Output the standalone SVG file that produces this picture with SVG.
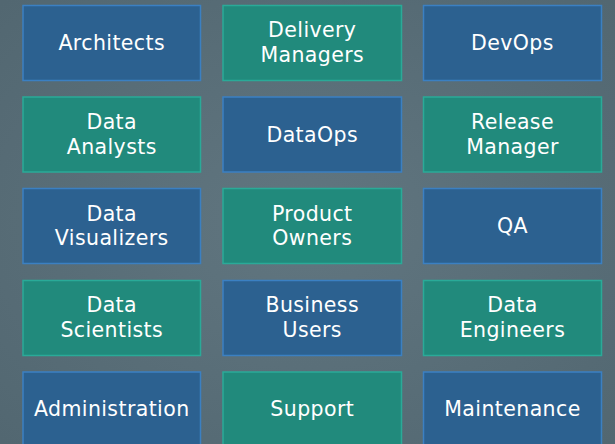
<svg xmlns="http://www.w3.org/2000/svg" width="615" height="444" viewBox="0 0 615 444">
<defs>
<radialGradient id="bg" cx="50%" cy="50%" r="70%">
<stop offset="0" stop-color="#617680"/>
<stop offset="1" stop-color="#526771"/>
</radialGradient>
</defs>
<style>
.b{fill:#2c6190;stroke:#3b80c2;stroke-width:1.5}
.t{fill:#218a7c;stroke:#2aaa98;stroke-width:1.5}
text{font-family:"DejaVu Sans","Open Sans",sans-serif;font-size:20.5px;letter-spacing:0.4px;fill:#ffffff;text-anchor:middle}
</style>
<rect width="615" height="444" fill="url(#bg)"/>
<g id="architects"><rect class="b" x="23" y="5.5" width="177.5" height="75"/><text x="111.75" y="50">Architects</text></g>
<g id="delivery-managers"><rect class="t" x="223" y="5.5" width="178.5" height="75"/><text x="312.25" y="37">Delivery</text><text x="312.25" y="61.5">Managers</text></g>
<g id="devops"><rect class="b" x="423.5" y="5.5" width="178" height="75"/><text x="512.5" y="50">DevOps</text></g>

<g id="data-analysts"><rect class="t" x="23" y="97" width="177.5" height="75"/><text x="111.75" y="129">Data</text><text x="111.75" y="153.5">Analysts</text></g>
<g id="dataops"><rect class="b" x="223" y="97" width="178.5" height="75"/><text x="312.25" y="141.5">DataOps</text></g>
<g id="release-manager"><rect class="t" x="423.5" y="97" width="178" height="75"/><text x="512.5" y="129">Release</text><text x="512.5" y="153.5">Manager</text></g>

<g id="data-visualizers"><rect class="b" x="23" y="188.5" width="177.5" height="75"/><text x="111.75" y="220.5">Data</text><text x="111.75" y="245">Visualizers</text></g>
<g id="product-owners"><rect class="t" x="223" y="188.5" width="178.5" height="75"/><text x="312.25" y="220.5">Product</text><text x="312.25" y="245">Owners</text></g>
<g id="qa"><rect class="b" x="423.5" y="188.5" width="178" height="75"/><text x="512.5" y="233">QA</text></g>

<g id="data-scientists"><rect class="t" x="23" y="280.5" width="177.5" height="75"/><text x="111.75" y="312">Data</text><text x="111.75" y="336.5">Scientists</text></g>
<g id="business-users"><rect class="b" x="223" y="280.5" width="178.5" height="75"/><text x="312.25" y="312">Business</text><text x="312.25" y="336.5">Users</text></g>
<g id="data-engineers"><rect class="t" x="423.5" y="280.5" width="178" height="75"/><text x="512.5" y="312">Data</text><text x="512.5" y="336.5">Engineers</text></g>

<g id="administration"><rect class="b" x="23" y="372" width="177.5" height="75"/><text x="111.75" y="416">Administration</text></g>
<g id="support"><rect class="t" x="223" y="372" width="178.5" height="75"/><text x="312.25" y="416">Support</text></g>
<g id="maintenance"><rect class="b" x="423.5" y="372" width="178" height="75"/><text x="512.5" y="416">Maintenance</text></g>
<g id="connectors"/>
</svg>
